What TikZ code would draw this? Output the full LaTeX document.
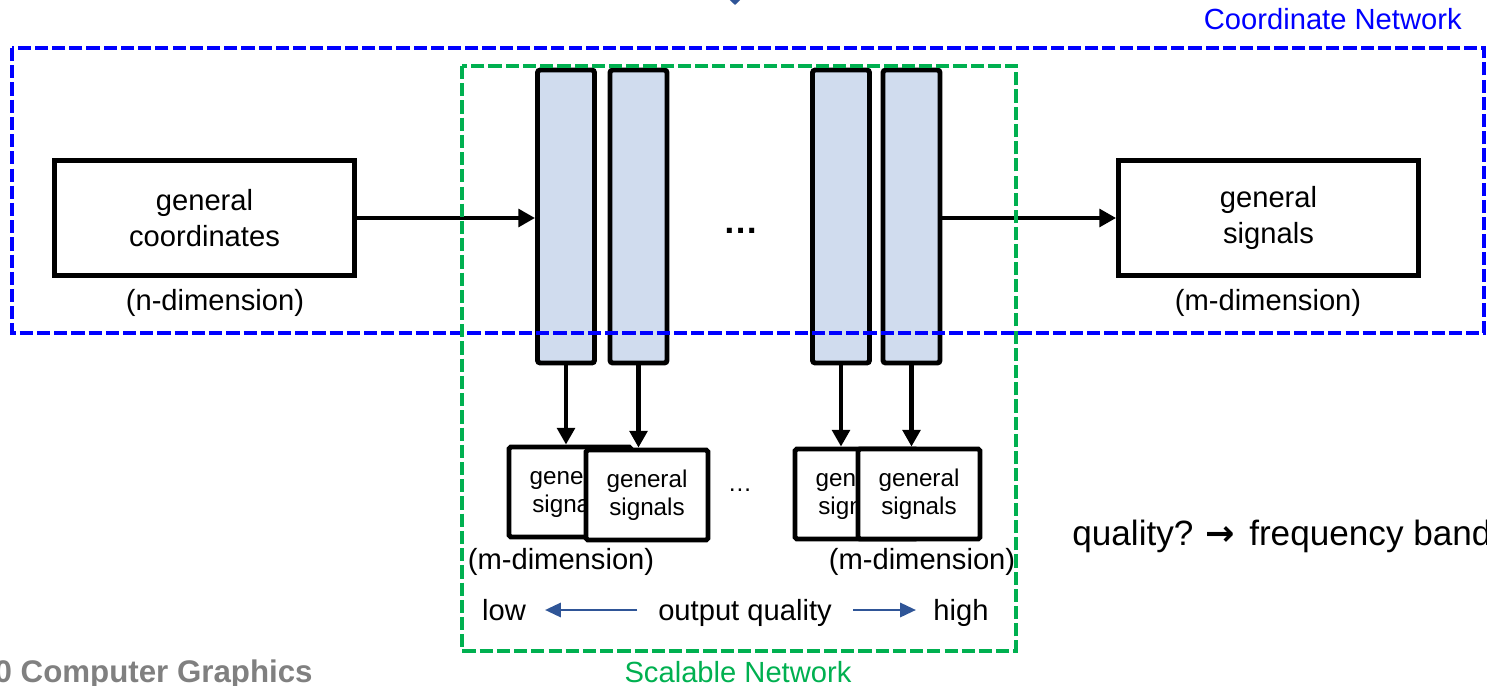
\documentclass[tikz,border=0pt]{standalone}
\usepackage{fontspec}
\setmainfont{Liberation Sans}
\setsansfont{Liberation Sans}
\newfontfamily\arrowfont{DejaVu Sans}
\usetikzlibrary{positioning, arrows.meta, calc}
\definecolor{layerfill}{RGB}{208,220,238}
\definecolor{coordblue}{RGB}{0,0,255}
\definecolor{scalegreen}{RGB}{0,176,80}
\definecolor{qualblue}{RGB}{47,85,151}
\definecolor{footgray}{RGB}{128,128,128}
\def\boxLine{2.8pt}
\def\dashLine{2.3pt}
\newcommand{\NetStyles}{
  \tikzset{
    bigbox/.style={
      rectangle,
      draw=black,
      line width=\boxLine,
      fill=white,
      minimum width=6.0cm,
      minimum height=2.3cm,
      align=center,
      font=\fontsize{16.6}{20.5}\selectfont
    },
    layer/.style={rectangle, rounded corners=1.5pt, draw=black, line width=\boxLine, fill=layerfill, minimum width=1.14cm, minimum height=5.86cm},
    smallbox/.style={rectangle, rounded corners=1pt, draw=black, line width=\boxLine, fill=white, minimum width=2.44cm, minimum height=1.8cm, align=center, font=\fontsize{13.8}{15.8}\selectfont},
    dimlabel/.style={inner sep=0pt, font=\fontsize{16.6}{19}\selectfont},
    feed/.style={-{Triangle[length=9.5pt,width=10pt]}, line width=2.3pt},
    qualarrow/.style={-{Triangle[length=9pt,width=8pt]}, line width=1.6pt, draw=qualblue, fill=qualblue},
    frame/.style={dash pattern=on 7.5pt off 2.3pt, line width=\dashLine}
  }
}

\begin{document}
\begin{tikzpicture}[x=0.02cm, y=-0.02cm]
  \NetStyles
  \useasboundingbox (0,0) rectangle (1487,686);
  \clip (0,0) rectangle (1487,686);

  % main path: coordinates -> layers -> signals
  \node[bigbox] (coords) at (204.5,218) {general\\coordinates};
  \node[dimlabel] (ndim) at (215,303) {(n-dimension)};
  \node[layer] (L1) at (566,216.5) {};
  \node[layer] (L2) at (638.5,216.5) {};
  \node[layer] (L3) at (841,216.5) {};
  \node[layer] (L4) at (911.5,216.5) {};
  \node[inner sep=0pt, font=\bfseries\fontsize{20}{24}\selectfont] (ldots) at (741,231) {…};
  \node[bigbox] (signals) at (1268.5,218) {general\\signals};
  \node[dimlabel] (mdim) at (1268,303) {(m-dimension)};

  \draw[feed] (coords.east) -- (L1.west |- coords.east);
  \draw[feed] (L4.east |- signals.west) -- (signals.west);

  % intermediate outputs
  \node[smallbox] (S1) at (570,492) {general\\signals};
  \node[smallbox] (S2) at (647,495) {general\\signals};
  \node[smallbox] (S3) at (856,494) {general\\signals};
  \node[smallbox] (S4) at (919,494) {general\\signals};
  \node[inner sep=0pt, font=\fontsize{13.8}{16}\selectfont] (sdots) at (740,490) {…};

  \draw[feed] (L1.south) -- (L1.south |- S1.north);
  \draw[feed] (L2.south) -- (L2.south |- S2.north);
  \draw[feed] (L3.south) -- (L3.south |- S3.north);
  \draw[feed] (L4.south) -- (L4.south |- S4.north);

  \node[dimlabel] (mdimA) at (561,562) {(m-dimension)};
  \node[dimlabel] (mdimB) at (922,562) {(m-dimension)};

  % quality scale
  \node[dimlabel, anchor=base] (qlabel) at (745,620) {output quality};
  \node[dimlabel, anchor=base] (low) at (504,620) {low};
  \node[dimlabel, anchor=base] (high) at (961,620) {high};
  \coordinate (lowTail) at (637,610);
  \coordinate (lowTip) at (545,610);
  \coordinate (highTail) at (853,610);
  \coordinate (highTip) at (916,610);
  \draw[qualarrow] (lowTail) -- (lowTip);
  \draw[qualarrow] (highTail) -- (highTip);

  \coordinate (topTail) at (735,-40);
  \coordinate (topTip) at (735,5);
  \draw[qualarrow, -{Triangle[length=6pt,width=12pt]}] (topTail) -- (topTip);

  \node[inner sep=0pt, anchor=base west, font=\fontsize{20}{24}\selectfont] (remark) at (1072,545) {quality?\hspace{0.35em}{\arrowfont\bfseries →}\hspace{0.4em}frequency band};
  \node[inner sep=0pt, anchor=base east, text=footgray, font=\bfseries\fontsize{17.8}{20}\selectfont] (footer) at (313,682) {0 Computer Graphics};

  % network frames
  \draw[frame, draw=coordblue] (12,48) rectangle (1484,333);
  \node[inner sep=0pt, anchor=base east, text=coordblue, font=\fontsize{16.6}{19}\selectfont] (coordnet) at (1462,30) {Coordinate Network};
  \draw[frame, draw=scalegreen] (462,66) rectangle (1016,651);
  \node[inner sep=0pt, anchor=base, text=scalegreen, font=\fontsize{16.6}{19}\selectfont] (scalenet) at (738,682) {Scalable Network};
\end{tikzpicture}
\end{document}
